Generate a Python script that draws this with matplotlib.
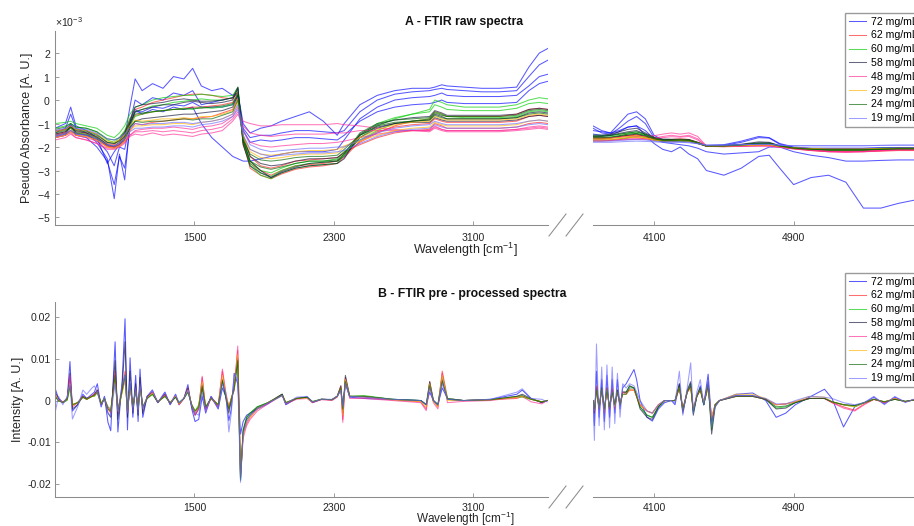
import matplotlib
matplotlib.use("Agg")
import matplotlib.pyplot as plt
import numpy as np
from matplotlib.lines import Line2D
from matplotlib.ticker import ScalarFormatter

plt.rcParams["font.family"] = ["Liberation Sans", "DejaVu Sans"]
plt.rcParams["axes.unicode_minus"] = False
plt.rcParams["mathtext.default"] = "regular"

# ---------------------------------------------------------------- series
labels = ["72 mg/mL", "62 mg/mL", "60 mg/mL", "58 mg/mL",
          "48 mg/mL", "29 mg/mL", "24 mg/mL", "19 mg/mL"]
colors = ["#0000ff", "#ff1f1f", "#00cc00", "#14143a",
          "#ff2b95", "#ffb400", "#006400", "#6a6aff"]

# ---------------------------------------------------------------- A: raw spectra (values in 1e-3 A.U.)
wn_raw_left = [700, 760, 790, 820, 880, 940, 1000, 1040, 1070, 1100,
               1130, 1160, 1200, 1260, 1320, 1380, 1440, 1490, 1540, 1600,
               1660, 1720, 1750, 1780, 1820, 1880, 1940, 2000, 2080, 2160,
               2240, 2320, 2360, 2450, 2550, 2650, 2750, 2850, 2880, 2920,
               2950, 3050, 3150, 3250, 3350, 3420, 3480, 3530]
wn_raw_right = [3750, 3800, 3850, 3900, 3950, 4000, 4050, 4100, 4150, 4200,
                4250, 4300, 4350, 4400, 4500, 4600, 4700, 4760, 4820, 4900,
                5000, 5100, 5200, 5300, 5400, 5500, 5600]

raw_left_72 = [
    [-1.2, -1.0, -0.3, -1.1, -1.3, -1.6, -2.7, -2.2, -1.9, -1.6,
     -0.3, 0.9, 0.4, 0.7, 0.5, 1.0, 0.9, 1.35, 0.6, 0.4,
     0.5, 0.2, 0.3, -1.0, -1.4, -1.2, -1.1, -0.9, -0.7, -0.5,
     -0.9, -1.5, -1.0, -0.2, 0.2, 0.4, 0.5, 0.5, 0.55, 0.65,
     0.6, 0.55, 0.5, 0.5, 0.55, 1.4, 2.0, 2.2],
    [-1.4, -1.2, -0.6, -1.2, -1.4, -1.8, -2.5, -4.2, -2.3, -3.4,
     -1.0, 0.0, -0.2, 0.1, 0.0, 0.3, 0.2, 0.4, -0.2, -0.1,
     0.0, 0.1, 0.3, -1.2, -1.6, -1.5, -1.5, -1.4, -1.3, -1.3,
     -1.35, -1.4, -1.3, -0.5, 0.0, 0.25, 0.35, 0.4, 0.45, 0.5,
     0.45, 0.4, 0.35, 0.35, 0.4, 1.0, 1.5, 1.7],
    [-1.6, -1.5, -1.0, -1.5, -1.6, -2.0, -2.6, -3.6, -2.4, -2.9,
     -1.2, -0.4, -0.6, -0.4, -0.5, -0.3, -0.4, -0.3, -1.0, -1.6,
     -2.0, -2.4, -2.5, -2.6, -2.6, -2.5, -2.4, -2.3, -2.2, -2.2,
     -2.2, -2.1, -1.7, -0.8, -0.3, 0.0, 0.1, 0.15, 0.2, 0.3,
     0.2, 0.15, 0.15, 0.15, 0.2, 0.6, 1.0, 1.1],
    [-1.5, -1.4, -1.1, -1.4, -1.5, -1.7, -2.2, -2.8, -2.0, -2.1,
     -1.0, -0.5, -0.5, -0.3, -0.35, -0.2, -0.25, -0.1, -0.3, -0.3,
     -0.3, -0.2, 0.2, -1.3, -1.8, -1.7, -1.75, -1.7, -1.6, -1.6,
     -1.65, -1.7, -1.5, -0.9, -0.5, -0.3, -0.2, -0.15, -0.1, 0.0,
     -0.1, -0.15, -0.15, -0.15, -0.1, 0.4, 0.7, 0.8],
]
raw_right_72 = [
    [-1.3, -1.35, -1.4, -1.0, -0.6, -0.5, -0.8, -1.5, -1.7, -1.72,
     -1.72, -1.72, -1.82, -1.93, -1.9, -1.75, -1.55, -1.6, -1.85, -2.0,
     -2.05, -2.05, -2.05, -2.05, -2.03, -2.02, -2.02],
    [-1.2, -1.4, -1.45, -1.2, -0.9, -0.7, -1.0, -1.6, -1.8, -1.85,
     -1.9, -1.95, -2.05, -2.2, -2.3, -2.25, -2.2, -2.0, -2.0, -2.2,
     -2.35, -2.45, -2.6, -2.6, -2.57, -2.55, -2.55],
    [-1.1, -1.3, -1.4, -1.3, -1.15, -1.1, -1.5, -1.85, -2.1, -2.2,
     -2.0, -2.3, -2.5, -3.0, -3.2, -2.9, -2.4, -2.35, -2.9, -3.6,
     -3.3, -3.2, -3.5, -4.6, -4.6, -4.4, -4.25],
    [-1.45, -1.5, -1.5, -1.35, -1.15, -1.1, -1.3, -1.65, -1.75, -1.75,
     -1.75, -1.75, -1.85, -1.95, -1.93, -1.8, -1.6, -1.62, -1.88, -2.02,
     -2.06, -2.06, -2.06, -2.06, -2.04, -2.03, -2.03],
]
raw_left_62 = [
    [-1.3, -1.25, -1.1, -1.3, -1.4, -1.6, -1.85, -1.9, -1.7, -1.4,
     -0.8, -0.4, -0.3, -0.1, 0.0, 0.1, 0.2, 0.25, 0.25, 0.2,
     0.1, 0.05, 0.35, -1.9, -2.7, -3.0, -3.2, -3.0, -2.8, -2.75,
     -2.7, -2.6, -2.3, -1.8, -1.4, -1.1, -0.9, -0.8, -0.5, -0.6,
     -0.7, -0.7, -0.7, -0.7, -0.6, -0.4, -0.35, -0.4],
    [-1.6, -1.5, -1.35, -1.5, -1.55, -1.7, -2.0, -2.05, -1.95, -1.75,
     -1.3, -1.0, -1.05, -0.95, -0.9, -0.85, -0.8, -0.8, -0.75, -0.7,
     -0.55, -0.4, 0.1, -1.6, -2.4, -2.8, -2.9, -2.8, -2.6, -2.55,
     -2.5, -2.45, -2.2, -1.9, -1.6, -1.4, -1.3, -1.25, -1.0, -1.1,
     -1.2, -1.2, -1.2, -1.2, -1.15, -1.0, -0.95, -1.0],
    [-1.45, -1.35, -1.2, -1.4, -1.45, -1.6, -1.95, -2.0, -1.85, -1.6,
     -1.0, -0.65, -0.6, -0.5, -0.45, -0.4, -0.35, -0.3, -0.3, -0.25,
     -0.2, -0.1, 0.3, -1.8, -2.9, -3.2, -3.35, -3.15, -2.95, -2.85,
     -2.8, -2.7, -2.45, -1.75, -1.35, -1.15, -1.05, -1.0, -0.8, -0.9,
     -0.95, -0.95, -0.95, -0.95, -0.9, -0.7, -0.65, -0.7],
]
raw_right_62 = [
    [-1.6, -1.62, -1.6, -1.55, -1.5, -1.48, -1.55, -1.65, -1.7, -1.68,
     -1.65, -1.68, -1.8, -1.95, -1.97, -1.95, -1.92, -1.92, -1.98, -2.05,
     -2.12, -2.15, -2.15, -2.15, -2.12, -2.1, -2.1],
    [-1.75, -1.75, -1.72, -1.68, -1.62, -1.6, -1.65, -1.72, -1.76, -1.76,
     -1.74, -1.76, -1.85, -1.97, -1.98, -1.96, -1.93, -1.93, -2.0, -2.08,
     -2.15, -2.2, -2.2, -2.2, -2.18, -2.15, -2.15],
    [-1.65, -1.65, -1.63, -1.58, -1.52, -1.5, -1.58, -1.68, -1.73, -1.72,
     -1.7, -1.72, -1.83, -1.96, -1.97, -1.94, -1.9, -1.9, -1.98, -2.06,
     -2.14, -2.18, -2.18, -2.18, -2.15, -2.12, -2.12],
]
raw_left_60 = [
    [-1.0, -0.95, -0.9, -1.0, -1.1, -1.2, -1.5, -1.6, -1.4, -1.1,
     -0.6, -0.3, -0.2, 0.0, 0.1, 0.15, 0.2, 0.2, 0.25, 0.2,
     0.15, 0.2, 0.55, -1.8, -2.8, -3.2, -3.35, -3.1, -2.9, -2.8,
     -2.75, -2.7, -2.3, -1.6, -1.1, -0.8, -0.6, -0.4, 0.0, -0.1,
     -0.2, -0.3, -0.3, -0.3, -0.2, 0.0, 0.1, 0.05],
    [-1.5, -1.4, -1.2, -1.4, -1.45, -1.6, -1.9, -2.0, -1.9, -1.7,
     -1.1, -0.7, -0.6, -0.5, -0.45, -0.4, -0.35, -0.4, -0.3, -0.35,
     -0.3, -0.2, 0.3, -1.6, -2.6, -3.0, -3.1, -2.9, -2.7, -2.6,
     -2.6, -2.5, -2.2, -1.7, -1.3, -1.0, -0.9, -0.8, -0.5, -0.6,
     -0.7, -0.75, -0.75, -0.75, -0.7, -0.5, -0.45, -0.5],
    [-1.2, -1.1, -1.0, -1.15, -1.2, -1.35, -1.7, -1.8, -1.6, -1.3,
     -0.8, -0.5, -0.4, -0.25, -0.2, -0.1, -0.05, 0.0, 0.05, 0.0,
     0.0, 0.1, 0.45, -1.7, -2.7, -3.1, -3.25, -3.0, -2.8, -2.7,
     -2.65, -2.6, -2.35, -1.5, -1.0, -0.75, -0.6, -0.5, -0.2, -0.3,
     -0.4, -0.45, -0.45, -0.45, -0.35, -0.15, -0.1, -0.15],
]
raw_right_60 = [
    [-1.5, -1.5, -1.5, -1.45, -1.4, -1.35, -1.45, -1.6, -1.7, -1.7,
     -1.7, -1.7, -1.8, -1.95, -1.95, -1.9, -1.85, -1.85, -1.95, -2.05,
     -2.1, -2.1, -2.1, -2.1, -2.05, -2.05, -2.05],
    [-1.7, -1.7, -1.7, -1.65, -1.6, -1.55, -1.6, -1.7, -1.75, -1.75,
     -1.75, -1.75, -1.85, -1.95, -1.95, -1.92, -1.9, -1.9, -1.97, -2.05,
     -2.1, -2.12, -2.12, -2.12, -2.1, -2.08, -2.08],
    [-1.6, -1.6, -1.58, -1.52, -1.45, -1.42, -1.5, -1.64, -1.72, -1.72,
     -1.72, -1.72, -1.82, -1.95, -1.95, -1.9, -1.85, -1.85, -1.96, -2.06,
     -2.12, -2.14, -2.14, -2.14, -2.1, -2.08, -2.08],
]
raw_left_58 = [
    [-1.45, -1.35, -1.15, -1.35, -1.4, -1.55, -1.9, -1.95, -1.8, -1.5,
     -1.0, -0.5, -0.4, -0.3, -0.2, -0.2, -0.1, -0.05, -0.1, -0.15,
     -0.1, 0.0, 0.5, -1.7, -2.6, -3.0, -3.3, -3.05, -2.85, -2.7,
     -2.65, -2.6, -2.4, -1.6, -1.2, -1.0, -0.9, -0.85, -0.6, -0.7,
     -0.8, -0.8, -0.8, -0.8, -0.75, -0.55, -0.5, -0.55],
    [-1.55, -1.45, -1.3, -1.45, -1.5, -1.65, -1.95, -2.0, -1.9, -1.7,
     -1.2, -0.9, -0.8, -0.75, -0.7, -0.65, -0.6, -0.6, -0.55, -0.5,
     -0.45, -0.3, 0.2, -1.5, -2.4, -2.7, -2.8, -2.75, -2.6, -2.5,
     -2.5, -2.45, -2.25, -1.5, -1.15, -1.0, -0.95, -0.95, -0.75, -0.85,
     -0.9, -0.9, -0.9, -0.9, -0.85, -0.7, -0.65, -0.7],
    [-1.35, -1.25, -1.05, -1.25, -1.3, -1.45, -1.8, -1.85, -1.7, -1.4,
     -0.9, -0.3, -0.2, -0.15, -0.1, 0.0, 0.05, 0.0, -0.05, -0.05,
     0.0, 0.1, 0.55, -1.9, -2.8, -3.1, -3.3, -3.1, -2.9, -2.8,
     -2.75, -2.7, -2.5, -1.45, -1.05, -0.85, -0.75, -0.7, -0.45, -0.55,
     -0.65, -0.65, -0.65, -0.65, -0.6, -0.4, -0.35, -0.4],
]
raw_right_58 = [
    [-1.55, -1.55, -1.5, -1.42, -1.35, -1.3, -1.45, -1.6, -1.68, -1.68,
     -1.68, -1.7, -1.82, -1.95, -1.95, -1.9, -1.82, -1.82, -1.95, -2.05,
     -2.08, -2.1, -2.1, -2.1, -2.08, -2.06, -2.06],
    [-1.65, -1.65, -1.62, -1.55, -1.5, -1.45, -1.55, -1.68, -1.73, -1.73,
     -1.72, -1.73, -1.84, -1.96, -1.96, -1.92, -1.87, -1.87, -1.96, -2.05,
     -2.1, -2.12, -2.12, -2.12, -2.1, -2.08, -2.08],
    [-1.5, -1.5, -1.45, -1.35, -1.25, -1.2, -1.4, -1.58, -1.66, -1.67,
     -1.67, -1.68, -1.8, -1.94, -1.94, -1.88, -1.78, -1.8, -1.94, -2.04,
     -2.08, -2.1, -2.1, -2.1, -2.08, -2.06, -2.06],
]
raw_left_48 = [
    [-1.5, -1.4, -1.3, -1.5, -1.6, -1.75, -1.95, -2.0, -1.9, -1.75,
     -1.5, -1.35, -1.35, -1.3, -1.35, -1.3, -1.35, -1.4, -1.3, -1.25,
     -1.15, -0.8, -0.5, -0.9, -1.0, -1.1, -1.1, -1.05, -1.05, -1.05,
     -1.05, -1.0, -1.05, -1.1, -1.2, -1.25, -1.3, -1.35, -1.2, -1.3,
     -1.35, -1.35, -1.35, -1.35, -1.3, -1.25, -1.2, -1.25],
    [-1.7, -1.6, -1.45, -1.6, -1.7, -1.85, -2.1, -2.1, -2.0, -1.85,
     -1.5, -1.3, -1.25, -1.2, -1.2, -1.15, -1.2, -1.25, -1.15, -1.1,
     -1.0, -0.7, -0.3, -1.3, -1.8, -1.95, -2.0, -1.95, -1.9, -1.85,
     -1.85, -1.8, -1.75, -1.6, -1.45, -1.35, -1.3, -1.3, -1.15, -1.25,
     -1.3, -1.3, -1.3, -1.3, -1.25, -1.15, -1.1, -1.15],
    [-1.6, -1.5, -1.4, -1.6, -1.7, -1.85, -2.05, -2.05, -1.95, -1.8,
     -1.55, -1.45, -1.5, -1.4, -1.5, -1.45, -1.5, -1.55, -1.45, -1.4,
     -1.3, -0.9, -0.6, -1.1, -1.4, -1.5, -1.55, -1.5, -1.45, -1.45,
     -1.45, -1.4, -1.4, -1.3, -1.3, -1.3, -1.3, -1.3, -1.1, -1.25,
     -1.3, -1.3, -1.3, -1.3, -1.25, -1.2, -1.15, -1.2],
]
raw_right_48 = [
    [-1.6, -1.6, -1.6, -1.58, -1.55, -1.55, -1.55, -1.52, -1.45, -1.4,
     -1.45, -1.4, -1.55, -1.95, -1.97, -1.95, -1.95, -1.95, -2.0, -2.05,
     -2.12, -2.2, -2.22, -2.2, -2.15, -2.12, -2.12],
    [-1.7, -1.7, -1.7, -1.68, -1.66, -1.65, -1.65, -1.62, -1.55, -1.5,
     -1.55, -1.5, -1.65, -1.96, -1.98, -1.96, -1.95, -1.95, -2.0, -2.06,
     -2.12, -2.18, -2.2, -2.18, -2.14, -2.1, -2.1],
    [-1.72, -1.72, -1.72, -1.7, -1.68, -1.67, -1.67, -1.65, -1.6, -1.56,
     -1.58, -1.55, -1.7, -1.97, -1.99, -1.97, -1.96, -1.96, -2.01, -2.08,
     -2.15, -2.2, -2.22, -2.2, -2.16, -2.12, -2.12],
]
raw_left_29 = [
    [-1.35, -1.25, -1.1, -1.25, -1.3, -1.45, -1.75, -1.8, -1.7, -1.5,
     -1.1, -0.85, -0.9, -0.85, -0.8, -0.8, -0.75, -0.8, -0.7, -0.7,
     -0.6, -0.45, 0.0, -1.6, -2.2, -2.45, -2.5, -2.45, -2.35, -2.3,
     -2.3, -2.25, -2.0, -1.6, -1.25, -1.05, -0.95, -0.9, -0.7, -0.8,
     -0.85, -0.85, -0.85, -0.85, -0.8, -0.65, -0.6, -0.65],
    [-1.6, -1.5, -1.35, -1.5, -1.55, -1.7, -2.0, -2.05, -1.95, -1.75,
     -1.3, -1.1, -1.1, -1.05, -1.05, -1.0, -1.0, -1.05, -0.95, -0.9,
     -0.8, -0.6, -0.1, -1.5, -2.1, -2.3, -2.35, -2.3, -2.2, -2.15,
     -2.15, -2.1, -1.95, -1.75, -1.5, -1.3, -1.2, -1.15, -0.95, -1.05,
     -1.1, -1.1, -1.1, -1.1, -1.05, -0.9, -0.85, -0.9],
]
raw_right_29 = [
    [-1.65, -1.65, -1.63, -1.6, -1.55, -1.52, -1.58, -1.68, -1.72, -1.72,
     -1.7, -1.72, -1.82, -1.95, -1.96, -1.93, -1.9, -1.9, -1.97, -2.04,
     -2.08, -2.1, -2.1, -2.1, -2.08, -2.06, -2.06],
    [-1.7, -1.7, -1.68, -1.65, -1.6, -1.58, -1.62, -1.7, -1.74, -1.74,
     -1.72, -1.74, -1.84, -1.95, -1.96, -1.94, -1.92, -1.92, -1.97, -2.03,
     -2.06, -2.08, -2.08, -2.08, -2.06, -2.05, -2.05],
]
raw_left_24 = [
    [-1.4, -1.3, -1.15, -1.3, -1.35, -1.5, -1.8, -1.85, -1.75, -1.55,
     -1.15, -0.9, -0.95, -0.9, -0.9, -0.85, -0.8, -0.85, -0.8, -0.8,
     -0.65, -0.5, 0.0, -1.7, -2.3, -2.55, -2.6, -2.55, -2.45, -2.4,
     -2.4, -2.35, -2.1, -1.5, -1.1, -0.95, -0.9, -0.85, -0.65, -0.75,
     -0.8, -0.8, -0.8, -0.8, -0.75, -0.6, -0.55, -0.6],
    [-1.25, -1.15, -1.0, -1.15, -1.2, -1.35, -1.65, -1.7, -1.6, -1.35,
     -0.95, -0.6, -0.55, -0.5, -0.45, -0.4, -0.4, -0.35, -0.35, -0.3,
     -0.25, -0.15, 0.25, -1.8, -2.6, -2.85, -2.95, -2.85, -2.7, -2.6,
     -2.6, -2.55, -2.3, -1.4, -1.0, -0.85, -0.8, -0.75, -0.55, -0.65,
     -0.7, -0.7, -0.7, -0.7, -0.65, -0.45, -0.4, -0.45],
]
raw_right_24 = [
    [-1.6, -1.6, -1.58, -1.52, -1.45, -1.42, -1.52, -1.65, -1.72, -1.72,
     -1.7, -1.72, -1.83, -1.96, -1.96, -1.92, -1.86, -1.86, -1.96, -2.05,
     -2.1, -2.12, -2.12, -2.12, -2.1, -2.08, -2.08],
    [-1.55, -1.55, -1.52, -1.46, -1.4, -1.36, -1.47, -1.62, -1.7, -1.7,
     -1.7, -1.71, -1.82, -1.95, -1.95, -1.9, -1.84, -1.84, -1.95, -2.04,
     -2.09, -2.11, -2.11, -2.11, -2.09, -2.07, -2.07],
]
raw_left_19 = [
    [-1.3, -1.2, -1.05, -1.2, -1.25, -1.4, -1.65, -1.7, -1.6, -1.45,
     -1.2, -1.0, -1.05, -1.0, -1.0, -0.95, -0.95, -1.0, -0.95, -0.9,
     -0.8, -0.6, -0.2, -1.3, -1.9, -2.1, -2.2, -2.15, -2.1, -2.05,
     -2.05, -2.0, -2.0, -1.7, -1.4, -1.2, -1.1, -1.05, -0.9, -1.0,
     -1.05, -1.05, -1.05, -1.05, -1.0, -0.9, -0.85, -0.9],
    [-1.55, -1.45, -1.3, -1.45, -1.5, -1.65, -1.9, -1.95, -1.85, -1.65,
     -1.35, -1.2, -1.2, -1.15, -1.15, -1.1, -1.1, -1.15, -1.05, -1.0,
     -0.9, -0.7, -0.4, -1.5, -2.1, -2.3, -2.4, -2.35, -2.3, -2.25,
     -2.25, -2.2, -2.15, -1.85, -1.55, -1.35, -1.25, -1.2, -1.05, -1.15,
     -1.2, -1.2, -1.2, -1.2, -1.15, -1.05, -1.0, -1.05],
]
raw_right_19 = [
    [-1.75, -1.75, -1.75, -1.72, -1.7, -1.68, -1.7, -1.75, -1.78, -1.78,
     -1.78, -1.8, -1.85, -1.92, -1.92, -1.9, -1.88, -1.88, -1.92, -1.95,
     -1.95, -1.95, -1.95, -1.95, -1.93, -1.92, -1.92],
    [-1.8, -1.8, -1.8, -1.78, -1.76, -1.75, -1.76, -1.78, -1.8, -1.8,
     -1.8, -1.82, -1.86, -1.92, -1.92, -1.9, -1.89, -1.89, -1.92, -1.94,
     -1.94, -1.94, -1.94, -1.94, -1.93, -1.92, -1.92],
]

raw_left = [raw_left_72, raw_left_62, raw_left_60, raw_left_58,
            raw_left_48, raw_left_29, raw_left_24, raw_left_19]
raw_right = [raw_right_72, raw_right_62, raw_right_60, raw_right_58,
             raw_right_48, raw_right_29, raw_right_24, raw_right_19]

# ---------------------------------------------------------------- B: pre-processed (values in 1e-3 A.U.)
wn_pre_left = [700, 720, 745, 770, 786, 800, 830, 860, 882, 912,
               926, 943, 965, 984, 1004, 1020, 1045, 1061, 1086, 1102,
               1116, 1131, 1147, 1163, 1177, 1188, 1204, 1229, 1259, 1290,
               1331, 1361, 1392, 1412, 1440, 1463, 1485, 1504, 1525, 1545,
               1565, 1596, 1637, 1661, 1680, 1698, 1712, 1729, 1749, 1765,
               1780, 1800, 1820, 1861, 1922, 2004, 2025, 2086, 2147, 2178,
               2229, 2290, 2320, 2341, 2352, 2367, 2392, 2474, 2637, 2800,
               2831, 2851, 2872, 2898, 2923, 2953, 3045, 3200, 3351, 3382,
               3433, 3494, 3525]
wn_pre_right = [3750, 3758, 3770, 3785, 3800, 3815, 3830, 3845, 3860, 3875,
                3890, 3905, 3920, 3940, 3960, 3985, 4000, 4020, 4060, 4090,
                4125, 4160, 4200, 4220, 4245, 4265, 4290, 4310, 4325, 4345,
                4365, 4385, 4410, 4430, 4450, 4475, 4570, 4665, 4740, 4800,
                4855, 4910, 4990, 5077, 5120, 5186, 5250, 5305, 5360, 5420,
                5480, 5540, 5600]

pre_left_72 = [3.0, 0.5, -0.5, 0.5, 9.3, -2.5, -1.0, 1.5, 0.5, 1.5,
               2.0, 4.0, -1.5, 1.0, -5.2, -7.2, 14.0, -7.5, 5.0, 19.5,
               -7.0, 10.2, -4.0, 6.0, -5.0, 7.5, -4.0, 1.0, 2.5, -0.5,
               2.0, -1.0, 1.5, -1.0, 0.5, 3.8, -2.0, -5.0, -4.5, 1.0,
               -3.0, 1.0, -2.0, 3.0, 1.0, -4.8, -2.0, 6.5, 4.0, -8.0,
               -5.0, -3.5, -3.0, -2.0, -0.8, 1.5, -1.0, 0.5, 0.8, -0.5,
               0.3, 0.2, 1.0, 2.5, -1.0, 4.0, 0.8, 0.5, 0.2, 0.0,
               -1.0, 2.0, 0.0, -1.0, 3.0, 0.5, 0.0, 0.3, 1.5, 2.5,
               0.5, -0.5, 0.0]
pre_left_62 = [1.0, 0.0, -0.5, 0.3, 5.0, -1.5, -0.5, 1.0, 0.3, 1.0,
               1.5, 2.5, -1.0, 0.5, -2.0, -3.0, 7.0, -3.0, 3.0, 7.0,
               -3.0, 4.0, -2.0, 3.0, -2.5, 4.0, -2.0, 0.8, 2.0, -0.5,
               1.5, -0.8, 1.0, -0.8, 0.5, 3.0, -1.5, -3.0, -1.5, 5.5,
               -2.0, 0.8, -1.0, 7.0, 1.5, -2.0, 0.5, 3.0, 12.0, -17.0,
               -8.0, -5.5, -4.0, -2.0, -0.5, 1.5, -0.5, 0.5, 0.8, -0.3,
               0.3, 0.2, 1.0, 3.5, -4.5, 5.5, 1.0, 0.8, 0.2, -0.3,
               -2.0, 4.5, 0.0, -1.5, 7.0, 0.5, 0.0, 0.2, 0.5, 1.0,
               0.3, -0.3, 0.0]
pre_left_60 = [1.0, 0.0, -0.5, 0.0, 3.0, -1.0, -0.5, 0.8, 0.3, 1.0,
               1.0, 2.0, -0.5, 0.5, -1.5, -2.0, 5.0, -2.0, 2.0, 5.5,
               -2.0, 3.5, -1.5, 2.0, -2.0, 3.0, -1.5, 0.5, 1.5, -0.3,
               1.0, -0.5, 0.8, -0.5, 0.5, 2.0, -1.0, -2.5, -1.0, 4.0,
               -1.5, 0.5, -1.0, 5.0, 1.0, -1.5, 0.5, 2.5, 10.0, -19.0,
               -7.0, -4.0, -3.0, -1.5, -0.5, 1.5, -0.5, 0.5, 0.8, -0.2,
               0.3, 0.2, 1.0, 3.0, -2.5, 5.0, 1.0, 1.2, 0.3, 0.0,
               -1.0, 4.0, 0.0, -1.0, 6.0, 0.5, 0.0, 0.2, 0.8, 0.8,
               0.3, -0.3, 0.0]
pre_left_58 = [2.0, 0.5, -0.5, 0.5, 6.5, -2.0, -1.0, 1.0, 0.5, 1.0,
               1.5, 2.5, -1.0, 0.5, -3.0, -4.0, 9.5, -4.5, 3.5, 14.0,
               -4.0, 7.0, -3.0, 4.0, -3.5, 5.5, -3.0, 1.0, 2.0, -0.5,
               1.5, -0.8, 1.0, -0.8, 0.5, 3.0, -1.5, -3.5, -2.0, 3.0,
               -2.0, 0.8, -1.5, 5.0, 1.0, -3.0, 0.0, 3.5, 10.0, -18.5,
               -7.5, -4.5, -3.5, -1.8, -0.6, 1.5, -0.8, 0.5, 0.8, -0.4,
               0.3, 0.2, 1.0, 3.5, -3.0, 6.0, 1.0, 1.0, 0.3, 0.0,
               -1.0, 4.5, 0.0, -1.0, 5.0, 0.3, 0.0, 0.2, 1.0, 1.5,
               0.5, -0.5, 0.0]
pre_left_48 = [1.5, 0.2, -0.3, 0.3, 6.0, -1.0, -0.5, 0.8, 0.3, 1.2,
               1.5, 2.0, -0.8, 0.3, -1.5, -2.5, 6.0, -2.5, 2.5, 5.0,
               -2.5, 3.5, -1.5, 2.5, -2.0, 3.5, -1.5, 0.5, 2.0, -0.3,
               1.2, -0.5, 1.2, -1.0, 0.5, 2.5, -1.0, -3.5, -2.0, 5.8,
               -2.5, 0.5, -1.5, 7.5, 2.0, -1.5, 0.5, 2.5, 13.0, -18.0,
               -9.0, -6.0, -4.5, -2.5, -0.8, 1.2, -0.8, 0.3, 0.5, -0.5,
               0.2, 0.0, 0.8, 3.0, -5.2, 5.0, 0.5, 0.5, 0.0, -0.5,
               -2.4, 3.5, -0.5, -2.0, 6.5, -0.5, -0.2, 0.0, 0.8, 1.0,
               -0.3, -0.8, 0.0]
pre_left_29 = [1.5, 0.0, -0.5, 0.3, 4.0, -1.0, -0.5, 0.8, 0.3, 1.0,
               1.0, 2.0, -0.8, 0.5, -2.0, -2.5, 5.0, -2.5, 2.0, 5.0,
               -2.5, 3.0, -1.5, 2.5, -2.0, 3.0, -1.5, 0.5, 1.8, -0.3,
               1.0, -0.5, 1.0, -0.8, 0.5, 2.5, -1.0, -2.5, -1.5, 4.5,
               -1.5, 0.5, -1.0, 6.0, 1.5, -1.5, 0.5, 3.0, 11.0, -17.5,
               -8.5, -5.0, -4.0, -2.0, -0.5, 1.2, -0.5, 0.5, 0.6, -0.3,
               0.3, 0.2, 1.0, 3.0, -3.5, 5.0, 1.0, 1.0, 0.2, -0.2,
               -1.5, 4.0, -0.2, -1.5, 6.0, 0.0, 0.0, 0.2, 0.8, 1.0,
               0.3, -0.3, 0.0]
pre_left_24 = [1.0, 0.0, -0.5, 0.3, 3.5, -1.0, -0.5, 0.8, 0.3, 1.0,
               1.2, 2.0, -0.8, 0.5, -2.0, -2.5, 6.0, -2.5, 2.5, 6.0,
               -2.5, 4.0, -1.5, 2.5, -2.0, 3.5, -1.5, 0.5, 1.5, -0.3,
               1.0, -0.5, 0.8, -0.5, 0.5, 2.0, -1.0, -2.5, -1.5, 3.5,
               -1.5, 0.5, -1.0, 4.5, 1.0, -2.0, 0.3, 3.0, 9.5, -19.0,
               -7.0, -4.0, -3.0, -1.5, -0.5, 1.2, -0.5, 0.5, 0.8, -0.3,
               0.3, 0.2, 1.0, 3.0, -2.0, 4.5, 1.0, 1.0, 0.3, 0.0,
               -1.0, 3.5, 0.0, -1.0, 4.5, 0.3, 0.0, 0.2, 1.0, 1.2,
               0.3, -0.3, 0.0]
pre_left_19 = [-3.0, 1.0, -1.0, 1.0, 4.0, -4.4, -1.5, 2.5, 1.5, 3.0,
               3.5, 2.0, -1.5, 1.0, -3.0, -3.5, 4.0, -2.5, 4.0, 6.0,
               -3.0, 4.5, -2.5, 3.0, -3.0, 4.0, -2.0, 1.0, 2.5, -0.5,
               2.0, -1.0, 1.5, -0.5, 0.5, 2.5, -1.5, -3.0, -3.5, 2.0,
               -2.5, 1.0, -2.0, 4.0, 2.0, -7.5, -3.0, 6.5, 5.0, -19.5,
               -8.0, -5.0, -3.5, -2.0, -0.6, 1.2, -0.8, 0.8, 1.0, -0.3,
               0.3, 0.3, 1.0, 2.5, -1.5, 4.0, 1.0, 0.8, 0.3, 0.0,
               -1.0, 3.0, 0.0, -1.0, 4.0, 0.3, 0.0, 0.3, 2.0, 2.8,
               0.5, 0.3, -0.3]

pre_right_72 = [0.0, -6.0, 7.0, -4.0, 5.0, -5.0, 6.0, -4.0, 5.0, -3.0,
                5.0, -2.0, 3.0, 4.0, 5.5, 7.4, 5.0, 0.0, -4.0, -4.9,
                -2.0, -0.5, 0.0, -1.0, 4.0, -2.5, 2.0, 4.0, -2.5, 1.0,
                3.5, -1.0, 6.3, -5.0, -1.0, 0.0, 1.5, 1.8, 0.0, -4.0,
                -3.0, -1.0, 0.8, 2.7, 0.5, -6.3, -1.5, -0.5, 0.8, -0.8,
                0.8, -0.3, 0.3]
pre_right_62 = [0.0, -3.0, 3.5, -2.0, 3.0, -3.0, 3.0, -2.0, 3.0, -2.0,
                2.5, -1.0, 2.0, 2.0, 2.5, 2.5, 1.0, -1.0, -2.5, -3.0,
                -1.0, 0.0, 0.0, 0.0, 3.0, -2.0, 2.0, 3.0, -2.0, 1.0,
                2.5, -0.5, 3.0, -4.0, -1.0, 0.0, 1.0, 1.0, 0.3, -1.0,
                -0.8, -0.3, 0.5, 0.5, -0.5, -1.5, -2.3, -0.8, 0.3, -0.5,
                0.5, -0.3, 0.3]
pre_right_60 = [0.0, -2.5, 3.0, -2.0, 3.0, -2.5, 3.0, -2.0, 2.5, -1.5,
                2.5, -1.0, 2.0, 2.0, 3.5, 3.0, 1.5, -1.5, -3.5, -4.0,
                -1.5, 0.0, 0.0, 0.0, 3.5, -2.5, 2.0, 4.0, -3.0, 1.0,
                3.0, -1.0, 4.0, -7.0, -1.0, 0.0, 1.0, 1.0, 0.3, -1.8,
                -1.5, -0.5, 0.5, 0.5, -0.3, -1.0, -1.5, -0.5, 0.3, -0.3,
                0.3, -0.2, 0.2]
pre_right_58 = [0.0, -3.0, 3.0, -2.0, 3.0, -2.0, 3.0, -2.0, 2.5, -1.5,
                2.5, -1.0, 2.0, 2.0, 3.5, 3.0, 1.0, -2.0, -4.0, -4.5,
                -1.5, 0.0, 0.0, 0.0, 4.0, -3.0, 2.5, 4.5, -3.5, 1.0,
                3.0, -1.0, 4.5, -8.0, -1.5, 0.0, 1.2, 1.2, 0.3, -2.0,
                -1.8, -0.5, 0.5, 0.5, -0.3, -1.0, -1.2, -0.5, 0.3, -0.3,
                0.3, -0.2, 0.2]
pre_right_48 = [0.0, -2.5, 3.0, -2.0, 2.5, -2.5, 3.0, -2.0, 2.5, -1.5,
                2.0, -1.0, 2.0, 1.5, 2.5, 2.5, 1.0, -1.0, -2.5, -3.0,
                -1.0, 0.0, 0.0, 0.0, 3.0, -2.0, 2.0, 3.5, -2.0, 1.0,
                2.5, -0.5, 3.5, -4.5, -1.0, 0.0, 1.0, 1.0, 0.3, -1.0,
                -0.8, -0.3, 0.5, 0.5, -0.5, -1.8, -2.5, -1.0, 0.3, -0.5,
                0.5, -0.3, 0.3]
pre_right_29 = [0.0, -2.0, 2.5, -1.5, 2.5, -2.0, 2.5, -1.5, 2.0, -1.5,
                2.0, -1.0, 1.5, 1.5, 2.5, 2.5, 1.0, -1.0, -2.5, -3.0,
                -1.0, 0.0, 0.0, 0.0, 3.0, -2.0, 2.0, 3.0, -2.0, 1.0,
                2.5, -0.5, 3.0, -4.0, -1.0, 0.0, 1.5, 1.5, 0.5, -1.0,
                -0.8, -0.3, 1.0, 0.8, -0.3, -1.0, -1.5, -0.5, 0.3, -0.3,
                0.5, -0.3, 0.3]
pre_right_24 = [0.0, -2.0, 2.5, -1.5, 2.5, -2.0, 2.5, -1.5, 2.0, -1.0,
                2.0, -1.0, 1.5, 1.5, 3.0, 3.0, 1.0, -1.5, -3.5, -4.0,
                -1.5, 0.0, 0.0, 0.0, 3.0, -2.0, 2.0, 3.5, -2.5, 1.0,
                2.5, -1.0, 3.5, -6.0, -1.0, 0.0, 1.0, 1.0, 0.3, -1.5,
                -1.3, -0.5, 0.5, 0.5, -0.3, -1.0, -1.2, -0.5, 0.3, -0.3,
                0.3, -0.2, 0.2]
pre_right_19 = [0.0, -9.5, 13.5, -6.0, 8.0, -7.0, 8.5, -6.5, 8.0, -5.5,
                6.5, -4.0, 4.0, 3.0, 4.0, 3.5, 2.0, 0.0, -2.5, -3.0,
                -1.0, 0.0, 0.0, -0.5, 7.0, -3.5, 3.0, 9.0, -3.0, 2.0,
                5.0, -1.0, 5.0, -6.0, -1.5, 0.0, 1.2, 1.2, 0.5, -0.8,
                -0.8, 0.0, 1.0, 0.8, 0.5, -0.5, -1.0, -0.5, 1.0, -1.0,
                1.0, -0.5, 0.5]

pre_left = [pre_left_72, pre_left_62, pre_left_60, pre_left_58,
            pre_left_48, pre_left_29, pre_left_24, pre_left_19]
pre_right = [pre_right_72, pre_right_62, pre_right_60, pre_right_58,
             pre_right_48, pre_right_29, pre_right_24, pre_right_19]

# ---------------------------------------------------------------- figure
W, H = 914, 526
AXIS_GREY = "#8c8c8c"
TEXT = "#262626"
FS = 7.6

fig = plt.figure(figsize=(W / 100, H / 100), dpi=100)


def px_axes(x0, y0, x1, y1):
    # pixel box (top-left origin) -> figure fraction
    return fig.add_axes([x0 / W, 1 - y1 / H, (x1 - x0) / W, (y1 - y0) / H])


def style(ax, with_y, xpad):
    for side in ("top", "right"):
        ax.spines[side].set_visible(False)
    for side in ("bottom", "left"):
        ax.spines[side].set_color(AXIS_GREY)
        ax.spines[side].set_linewidth(0.75)
    ax.tick_params(direction="in", length=3, width=0.6, color=AXIS_GREY,
                   labelsize=FS, labelcolor=TEXT, pad=3)
    ax.tick_params(axis="x", pad=xpad)
    if not with_y:
        ax.spines["left"].set_visible(False)
        ax.tick_params(axis="y", left=False, labelleft=False)


ax_a_l = px_axes(55, 31, 548, 225)
ax_a_r = px_axes(593, 31, 914, 225)
ax_b_l = px_axes(55, 302, 548, 497)
ax_b_r = px_axes(593, 302, 914, 497)

LW, ALPHA = 0.75, 0.65
handles = []
for i in range(len(labels)):
    for curve in raw_left[i]:
        ax_a_l.plot(wn_raw_left, np.array(curve) * 1e-3, color=colors[i], lw=LW, alpha=ALPHA)
    for curve in raw_right[i]:
        ax_a_r.plot(wn_raw_right, np.array(curve) * 1e-3, color=colors[i], lw=LW, alpha=ALPHA)
    ax_b_l.plot(wn_pre_left, np.array(pre_left[i]) * 1e-3, color=colors[i], lw=LW, alpha=ALPHA)
    h, = ax_b_r.plot(wn_pre_right, np.array(pre_right[i]) * 1e-3, color=colors[i],
                     lw=LW, alpha=ALPHA, label=labels[i])
    handles.append(h)

for ax in (ax_a_l, ax_a_r):
    ax.set_ylim(-5.32e-3, 2.94e-3)
for ax in (ax_b_l, ax_b_r):
    ax.set_ylim(-0.023, 0.0235)
for ax, xpad in ((ax_a_l, 5.5), (ax_b_l, 4.0)):
    ax.set_xlim(700, 3530)
    ax.set_xticks([1500, 2300, 3100])
    style(ax, True, xpad)
for ax, xpad in ((ax_a_r, 5.5), (ax_b_r, 4.0)):
    ax.set_xlim(3750, 5590)
    ax.set_xticks([4100, 4900])
    style(ax, False, xpad)

ax_a_l.set_yticks([-0.005, -0.004, -0.003, -0.002, -0.001, 0, 0.001, 0.002])
fmt = ScalarFormatter(useMathText=True)
fmt.set_powerlimits((-2, 2))
ax_a_l.yaxis.set_major_formatter(fmt)
ax_a_l.yaxis.get_offset_text().set_fontsize(FS)
ax_a_l.yaxis.get_offset_text().set_color(TEXT)

ax_b_l.set_yticks([-0.02, -0.01, 0, 0.01, 0.02],
                  labels=["-0.02", "-0.01", "0", "0.01", "0.02"])

ax_a_l.set_ylabel("Pseudo Absorbance [A. U.]", fontsize=9, color=TEXT, labelpad=3)
ax_b_l.set_ylabel("Intensity [A. U.]", fontsize=9, color=TEXT, labelpad=2)

fig.text(464 / W, 1 - 22 / H, "A - FTIR raw spectra", ha="center", va="center",
         fontsize=8.8, fontweight="bold", color="#111111")
fig.text(472 / W, 1 - 294 / H, "B - FTIR pre - processed spectra", ha="center", va="center",
         fontsize=8.8, fontweight="bold", color="#111111")
fig.text(465 / W, 1 - 250 / H, "Wavelength [cm$^{-1}$]", ha="center", va="center",
         fontsize=9, color=TEXT)
fig.text(465 / W, 1 - 519 / H, "Wavelength [cm$^{-1}$]", ha="center", va="center",
         fontsize=8.5, color=TEXT)

# axis break marks
for ybase in (225, 497):
    for x0 in (549, 566):
        fig.add_artist(Line2D([x0 / W, (x0 + 17) / W],
                              [1 - (ybase + 11) / H, 1 - (ybase - 11) / H],
                              transform=fig.transFigure, color=AXIS_GREY, lw=0.75))

for top in (13, 273):
    fig.legend(handles=handles, labels=labels, loc="upper left",
               bbox_to_anchor=(845 / W, 1 - top / H), borderaxespad=0,
               fontsize=FS, frameon=True, fancybox=False, edgecolor="#9a9a9a",
               framealpha=1, handlelength=1.6, handletextpad=0.5,
               labelspacing=0.36, borderpad=0.35)

fig.savefig("out.png", dpi=100)
